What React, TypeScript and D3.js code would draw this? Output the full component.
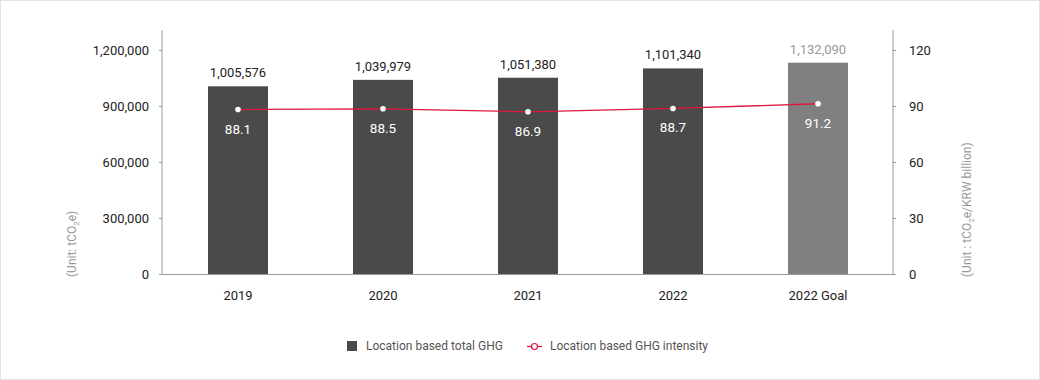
import React from "react";
import * as d3 from "d3";

const categories = ["2019", "2020", "2021", "2022", "2022 Goal"];
const totalGHG = [1005576, 1039979, 1051380, 1101340, 1132090];
const intensity = [88.1, 88.5, 86.9, 88.7, 91.2];
const leftTicks = [0, 300000, 600000, 900000, 1200000];
const rightTicks = [0, 30, 60, 90, 120];

const W = 1040, H = 380;
const axL = 162, axR = 893, y0 = 274, y1 = 50;

export default function App() {
  const x = d3.scaleBand<string>().domain(categories).range([165.5, 890.5]).paddingInner(0).paddingOuter(0);
  const yL = d3.scaleLinear().domain([0, 1200000]).range([y0, y1]);
  const yR = d3.scaleLinear().domain([0, 120]).range([y0, y1]);
  const fmt = d3.format(",");
  const barW = 60;
  const cx = (c: string) => (x(c) as number) + x.bandwidth() / 2;
  const line = d3.line<number>().x((_, i) => cx(categories[i])).y((v) => yR(v));
  const font = "Roboto, 'Noto Sans', sans-serif";
  const red = "#e0173e";

  return (
    <div style={{ position: "absolute", left: 0, top: 0 }}>
      <svg width={W} height={H} style={{ display: "block", fontFamily: font }}>
        <rect x={0.5} y={0.5} width={W - 1} height={H - 1} fill="#fff" stroke="#e3e3e3" />
        {/* axes */}
        <line x1={axL} x2={axL} y1={y1 - 20} y2={y0} stroke="#9a9a9a" />
        <line x1={axR} x2={axR} y1={y1 - 20} y2={y0} stroke="#9a9a9a" />
        <line x1={axL} x2={axR} y1={y0 + 0.5} y2={y0 + 0.5} stroke="#9a9a9a" />
        {leftTicks.map((t) => (
          <g key={"l" + t}>
            <line x1={axL - 3} x2={axL} y1={Math.round(yL(t)) + 0.5} y2={Math.round(yL(t)) + 0.5} stroke="#9a9a9a" />
            <text x={149} y={yL(t)} dy="0.35em" textAnchor="end" fontSize={13} fill="#222">{fmt(t)}</text>
          </g>
        ))}
        {rightTicks.map((t) => (
          <g key={"r" + t}>
            <line x1={axR} x2={axR + 3} y1={Math.round(yR(t)) + 0.5} y2={Math.round(yR(t)) + 0.5} stroke="#9a9a9a" />
            <text x={909} y={yR(t)} dy="0.35em" textAnchor="start" fontSize={13} fill="#222">{t}</text>
          </g>
        ))}
        {/* unit labels */}
        <text transform="translate(76,277) rotate(-90)" fontSize={12} fill="#999" textAnchor="start">
          (Unit: tCO<tspan fontSize={8} dy={3}>2</tspan><tspan dy={-3}>e)</tspan>
        </text>
        <text transform="translate(971,277) rotate(-90)" fontSize={12} fill="#999" textAnchor="start">
          (Unit :  tCO<tspan fontSize={8} dy={3}>2</tspan><tspan dy={-3}>e/KRW billion)</tspan>
        </text>
        {/* bars */}
        {categories.map((c, i) => (
          <g key={c}>
            <rect x={cx(c) - barW / 2} y={yL(totalGHG[i])} width={barW} height={y0 - yL(totalGHG[i])} fill={i === 4 ? "#808080" : "#4a4a4a"} />
            <text x={cx(c)} y={yL(totalGHG[i]) - 9} textAnchor="middle" fontSize={13} fill={i === 4 ? "#999" : "#222"}>{fmt(totalGHG[i])}</text>
            <text x={cx(c)} y={300} textAnchor="middle" fontSize={13} fill="#222">{c}</text>
          </g>
        ))}
        {/* line */}
        <path d={line(intensity) || ""} fill="none" stroke={red} strokeWidth={1.3} />
        {intensity.map((v, i) => (
          <g key={"p" + i}>
            <circle cx={cx(categories[i])} cy={yR(v)} r={2.8} fill="#fff" />
            <text x={cx(categories[i])} y={yR(v) + 24} textAnchor="middle" fontSize={13.5} fill="#fff">{v.toFixed(1)}</text>
          </g>
        ))}
        {/* legend */}
        <rect x={347} y={341} width={10} height={10} fill="#4a4a4a" />
        <text x={366} y={346} dy="0.35em" fontSize={12} fill="#555">Location based total GHG</text>
        <line x1={527} x2={542} y1={346.5} y2={346.5} stroke={red} strokeWidth={1.3} />
        <circle cx={534.5} cy={346.5} r={3} fill="#fff" stroke={red} strokeWidth={1.2} />
        <text x={550} y={346} dy="0.35em" fontSize={12} fill="#555">Location based GHG intensity</text>
      </svg>
    </div>
  );
}
